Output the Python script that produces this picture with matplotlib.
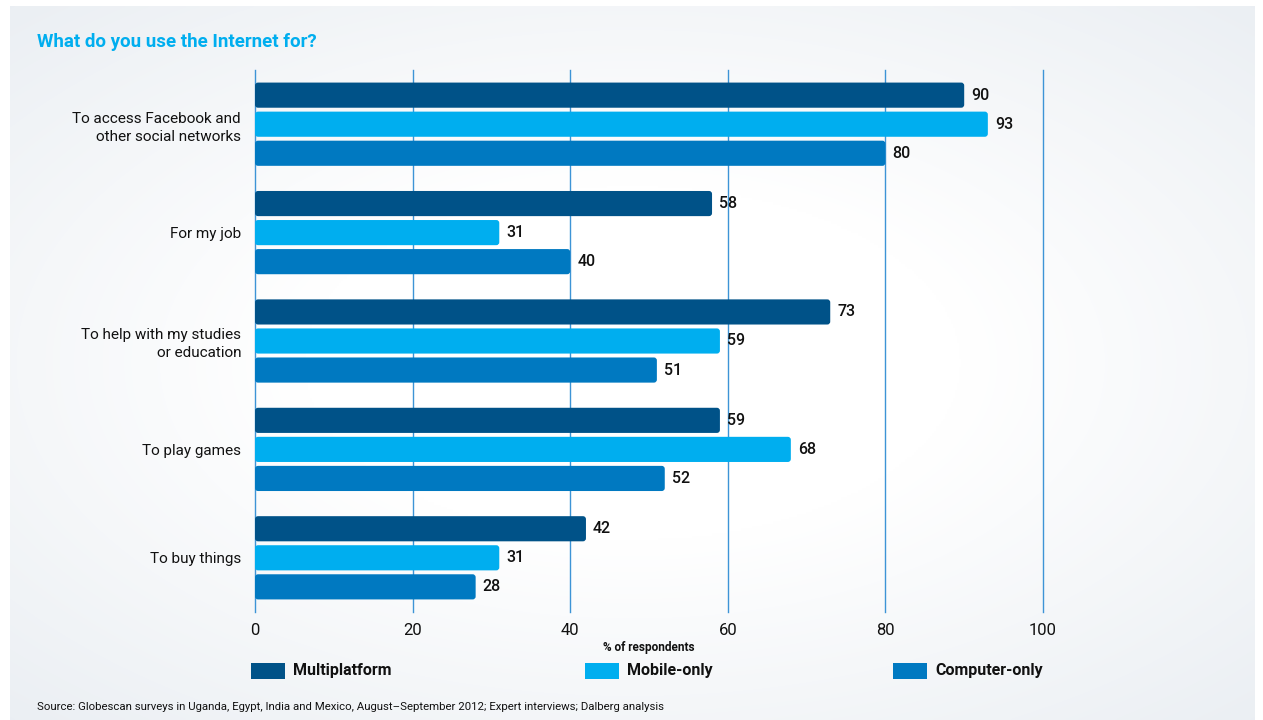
import numpy as np
import matplotlib
matplotlib.use("Agg")
import matplotlib.pyplot as plt
from matplotlib.patches import FancyBboxPatch, Rectangle

categories = ["To access Facebook and\nother social networks", "For my job",
              "To help with my studies\nor education", "To play games", "To buy things"]
series_names = ["Multiplatform", "Mobile-only", "Computer-only"]
multiplatform = [90, 58, 73, 59, 42]
mobile_only = [93, 31, 59, 68, 31]
computer_only = [80, 40, 51, 52, 28]
x_ticks = [0, 20, 40, 60, 80, 100]

colors = ["#005288", "#00AEEF", "#0079C1"]
grid_color = "#3d94d6"
font = ["Roboto", "DejaVu Sans"]
plt.rcParams["font.family"] = font

W, H = 1263, 720
fig = plt.figure(figsize=(W / 100, H / 100), dpi=100)
fig.patch.set_facecolor("white")

# background radial gradient panel
bg = fig.add_axes([10 / W, 0, (1255 - 10) / W, (720 - 6) / H])
yy, xx = np.mgrid[-1:1:300j, -1:1:600j]
r = np.sqrt((xx * 0.85) ** 2 + (yy * 0.9) ** 2)
v = np.clip((r - 0.45) / 0.85, 0, 1)
c0 = np.array([1.0, 1.0, 1.0])
c1 = np.array([0.915, 0.932, 0.95])
img = c0[None, None, :] * (1 - v[..., None]) + c1[None, None, :] * v[..., None]
bg.imshow(img, aspect="auto", extent=[0, 1, 0, 1], interpolation="bilinear")
bg.set_axis_off()

ax = fig.add_axes([255 / W, 1 - 612 / H, (1043 - 255) / W, (612 - 70) / H])
ax.patch.set_alpha(0)
ax.set_xlim(0, 100)
ax.set_ylim(4.5, -0.5)

y = np.arange(len(categories))
offsets = [-0.268, 0.0, 0.268]
bh = 0.232
px_x = (1043 - 255) / 100.0
px_y = (612 - 70) / 5.0
aspect = px_x / px_y
radius = 3.0 / px_x

for vals, off, col in zip([multiplatform, mobile_only, computer_only], offsets, colors):
    bars = ax.barh(y + off, vals, height=bh, color=col)
    for b, v_ in zip(bars, vals):
        b.set_visible(False)
        p = FancyBboxPatch((b.get_x(), b.get_y()), b.get_width(), b.get_height(),
                           boxstyle=f"round,pad=0,rounding_size={radius}",
                           mutation_aspect=aspect, facecolor=col, edgecolor="none",
                           zorder=3)
        ax.add_patch(p)
        ax.text(v_ + 0.9, b.get_y() + b.get_height() / 2, f"{v_}", va="center",
                ha="left", fontsize=11.5, fontweight="medium", color="#111111", zorder=4)

for t in x_ticks:
    ax.axvline(t, color=grid_color, lw=1.0, zorder=1, clip_on=False)

for s in ax.spines.values():
    s.set_visible(False)
ax.set_xticks(x_ticks)
ax.set_xticklabels([str(t) for t in x_ticks], fontsize=12, color="#111111")
ax.tick_params(axis="x", length=0, pad=8)
ax.set_yticks(y)
ax.set_yticklabels(categories, fontsize=11, color="#111111", linespacing=1.35)
ax.tick_params(axis="y", length=0, pad=15)
for lbl in ax.get_yticklabels():
    lbl.set_horizontalalignment("right")
    lbl.set_x(-15 / 788 * 0)  # keep default position

ax.set_xlabel("% of respondents", fontsize=8.5, fontweight="bold", labelpad=2,
              color="#111111")

# legend
leg_x = [251, 585, 893]
for lx, name, col in zip(leg_x, series_names, colors):
    fig.patches.append(Rectangle((lx / W, 1 - 679 / H), 34 / W, 16 / H,
                                 transform=fig.transFigure, facecolor=col,
                                 edgecolor="none"))
    fig.text((lx + 42) / W, 1 - 671 / H, name, fontsize=11.5, fontweight="bold",
             va="center", ha="left", color="#111111")

fig.text(37 / W, 1 - 42 / H, "What do you use the Internet for?", fontsize=13.5,
         fontweight="bold", color="#00AEEF", va="center", ha="left")
fig.text(37 / W, 1 - 707 / H,
         "Source: Globescan surveys in Uganda, Egypt, India and Mexico, August\u2013September 2012; Expert interviews; Dalberg analysis",
         fontsize=8.2, color="#111111", va="center", ha="left")

fig.canvas.draw()
# shift category labels so their right edge sits near x=240 px
ax.tick_params(axis="y", pad=10)

fig.savefig("out.png", dpi=100)
